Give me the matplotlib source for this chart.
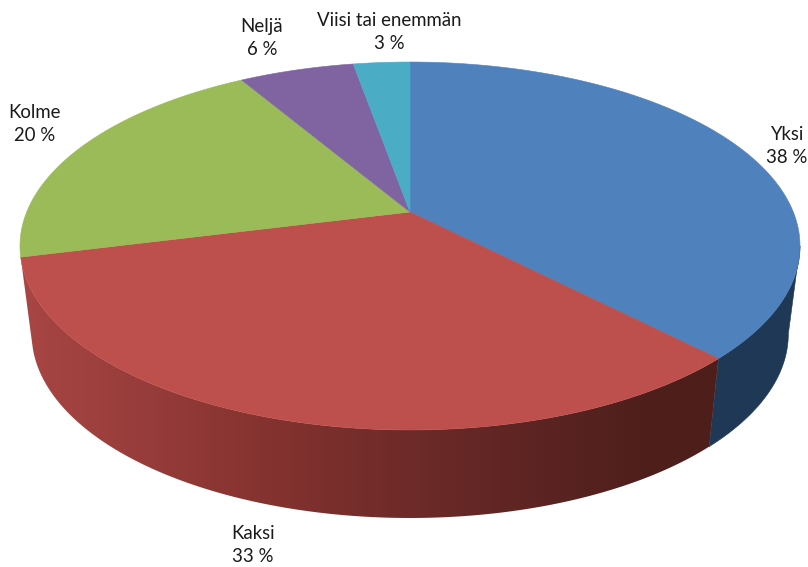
import numpy as np
import matplotlib.pyplot as plt
from matplotlib.colors import to_rgb
from matplotlib.patches import Polygon

# Share of each category (percent), labels show them rounded
labels = ['Yksi', 'Kaksi', 'Kolme', 'Neljä', 'Viisi tai enemmän']
values = [37.7, 33.4, 20.4, 5.7, 2.8]
top_colors = ['#4f81bd', '#bd4f4c', '#9bbb59', '#8064a2', '#4bacc6']

# Wall shading, left to right across the pie
wall_x = [20, 150, 270, 400, 520, 640, 720]
wall_red = ['#a84644', '#963c3a', '#84322f', '#6f2b29', '#5e2523', '#4f1f1c', '#4e1e1b']
wall_blue = '#1f3856'

# Label placement in pixels
label_x = [787, 253, 35, 262, 389]
label_y = [146, 545, 124, 38, 32]

# Perspective of the pie disc, in image pixels
CX, CY = 410, 212
A, B, K = 383.3, 177.7, 0.1848
DEPTH = 88
SHRINK = 0.97


def project(theta):
    # theta is clockwise from the top of the disc
    u, v = np.sin(theta), np.cos(theta)
    return CX + A * u / (1 + K * v), CY - B * v / (1 + K * v)


fig = plt.figure(figsize=(8.08, 5.67), dpi=100)
ax = fig.add_axes([0, 0, 1, 1])
ax.axis('off')

edges = np.cumsum([0] + values) / sum(values) * 2 * np.pi

# Side walls of the two front slices, the red one with a gradient
# The wall starts where the rim turns back, so the closing edge is the silhouette
wall_start = np.pi / 2 + np.arcsin(K)
for i in range(2):
    ts = np.linspace(max(edges[i], wall_start), edges[i + 1], 300)
    x, y = project(ts)
    xb = CX + (x - CX) * SHRINK
    wall = np.c_[np.r_[x, xb[::-1]], np.r_[y, (y + DEPTH)[::-1]]]
    if i == 0:
        ax.fill(wall[:, 0], wall[:, 1], color=wall_blue, lw=0.4, zorder=2)
    else:
        xs = np.arange(0, 808)
        rgb = np.array([to_rgb(c) for c in wall_red])
        grad = np.stack([np.interp(xs, wall_x, rgb[:, j]) for j in range(3)], axis=-1)
        im = ax.imshow(grad[np.newaxis, :, :], extent=[0, 808, 567, 0], aspect='auto', zorder=2)
        im.set_clip_path(Polygon(wall, transform=ax.transData))

ax.set_xlim(0, 808)
ax.set_ylim(567, 0)

# Top faces
for i in range(len(values)):
    ts = np.linspace(edges[i], edges[i + 1], 200)
    x, y = project(ts)
    ax.fill(np.r_[CX, x], np.r_[CY, y], color=top_colors[i], lw=0.4, zorder=3)

for name, val, lx, ly in zip(labels, values, label_x, label_y):
    ax.text(lx, ly, f'{name}\n{val:.0f} %', ha='center', va='center', fontsize=13.4,
            family='Lato', color='#1a1a1a', linespacing=1.45, zorder=4)

fig.savefig('out.png', dpi=100)
